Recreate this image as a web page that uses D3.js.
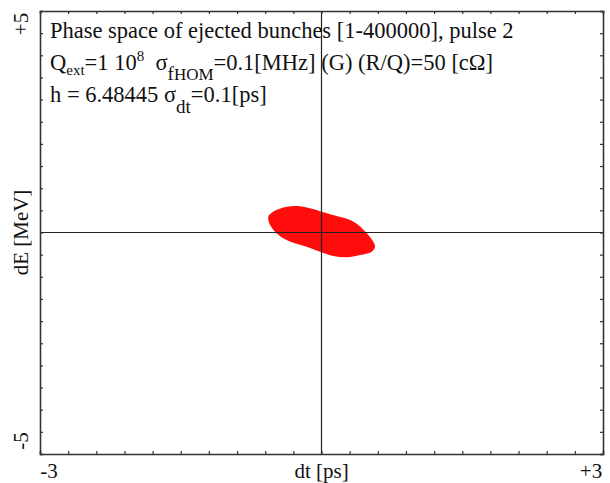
<!DOCTYPE html>
<html>
<head>
<meta charset="utf-8">
<script src="https://cdn.jsdelivr.net/npm/d3@7"></script>
<style>
  html, body { margin: 0; padding: 0; background: #fff; }
  svg text { font-family: "Liberation Serif", "DejaVu Serif", serif; fill: #111; }
</style>
</head>
<body>
<svg id="chart" width="610" height="483"></svg>
<script>
// Axis ranges and labels
const dtDomain = [-3, 3];        // ps
const dEDomain = [-5, 5];        // MeV
const xTickLabels = ["-3", "+3"];
const yTickLabels = ["-5", "+5"];
const xTitle = "dt [ps]";
const yTitle = "dE [MeV]";

// Outline of the ejected bunch distribution (dt [ps], dE [MeV])
const bunchDt = [-0.567, -0.531, -0.460, -0.371, -0.264, -0.123, 0.002, 0.162, 0.304, 0.392,
                 0.482, 0.552, 0.570, 0.535, 0.410, 0.269, 0.126, -0.016, -0.158, -0.301,
                 -0.407, -0.496, -0.556];
const bunchDE = [0.357, 0.447, 0.524, 0.582, 0.598, 0.546, 0.470, 0.372, 0.282, 0.169,
                 -0.018, -0.208, -0.321, -0.433, -0.508, -0.560, -0.530, -0.433, -0.321, -0.230,
                 -0.131, 0.018, 0.208];

const svg = d3.select("#chart");
const plotL = 40, plotR = 603, plotT = 11, plotB = 454;

const x = d3.scaleLinear().domain(dtDomain).range([plotL, plotR]);
const y = d3.scaleLinear().domain(dEDomain).range([plotB, plotT]);

const defs = svg.append("defs");
defs.append("filter").attr("id", "soft")
  .append("feGaussianBlur").attr("stdDeviation", 0.6);

// Bunch
const pts = bunchDt.map((d, i) => [x(d), y(bunchDE[i])]);
svg.append("path")
  .attr("d", d3.line().curve(d3.curveCatmullRomClosed.alpha(0.5))(pts))
  .attr("fill", "#ff0f0f")
  .attr("filter", "url(#soft)");

// Zero lines
svg.append("line").attr("x1", x(0)).attr("x2", x(0)).attr("y1", plotT).attr("y2", plotB)
  .attr("stroke", "#222").attr("stroke-width", 1.2);
svg.append("line").attr("x1", plotL).attr("x2", plotR).attr("y1", y(0)).attr("y2", y(0))
  .attr("stroke", "#222").attr("stroke-width", 1.2);

// Frame with inward minor ticks on all sides
const xTicks = d3.range(-3, 3.0001, 0.3);
const yTicks = d3.range(-5, 5.0001, 0.5);
const axB = d3.axisBottom(x).tickValues(xTicks).tickSize(-3).tickFormat("");
const axT = d3.axisTop(x).tickValues(xTicks).tickSize(-3).tickFormat("");
const axL = d3.axisLeft(y).tickValues(yTicks).tickSize(-3).tickFormat("");
const axR = d3.axisRight(y).tickValues(yTicks).tickSize(-3).tickFormat("");
[[axB, `translate(0,${plotB})`], [axT, `translate(0,${plotT})`],
 [axL, `translate(${plotL},0)`], [axR, `translate(${plotR},0)`]].forEach(([ax, tr]) => {
  const g = svg.append("g").attr("transform", tr).call(ax);
  g.select(".domain").attr("stroke", "#333").attr("stroke-width", 1.6);
  g.selectAll(".tick line").attr("stroke", "#333").attr("stroke-width", 1.2);
});

// Axis end labels
const fa = 21;
svg.append("text").attr("x", x(dtDomain[0]) + 9).attr("y", 478).attr("text-anchor", "middle")
  .attr("font-size", fa).text(xTickLabels[0]);
svg.append("text").attr("x", x(dtDomain[1]) - 12).attr("y", 478).attr("text-anchor", "middle")
  .attr("font-size", fa).text(xTickLabels[1]);
svg.append("text").attr("x", x(0)).attr("y", 478).attr("text-anchor", "middle")
  .attr("font-size", fa).text(xTitle);

function vtext(cx, cy, s) {
  svg.append("text").attr("transform", `translate(${cx},${cy}) rotate(-90)`)
    .attr("text-anchor", "middle").attr("font-size", fa).text(s);
}
vtext(28, y(dEDomain[0]) - 13, yTickLabels[0]);
vtext(28, y(dEDomain[1]) + 13, yTickLabels[1]);
vtext(28, y(0), yTitle);

// Annotation block
const fs = 22.5;
const tx = 50;
svg.append("text").attr("x", tx).attr("y", 38).attr("font-size", fs)
  .text("Phase space of ejected bunches [1-400000], pulse 2");

const l2 = svg.append("text").attr("x", tx).attr("y", 70).attr("font-size", fs);
l2.append("tspan").text("Q");
l2.append("tspan").attr("dy", 5).attr("font-size", 15).text("ext");
l2.append("tspan").attr("dy", -5).text("=1 10");
l2.append("tspan").attr("dy", -9).attr("font-size", 15).text("8");
l2.append("tspan").attr("dy", 9).text("\u00a0 σ");
l2.append("tspan").attr("dy", 10).attr("font-size", 19).text("f");
l2.append("tspan").attr("font-size", 17).text("HOM");
l2.append("tspan").attr("dy", -10).text("=0.1[MHz] (G) (R/Q)=50 [cΩ]");

const l3 = svg.append("text").attr("x", tx).attr("y", 102).attr("font-size", fs);
l3.append("tspan").text("h = 6.48445 σ");
l3.append("tspan").attr("dy", 11).attr("font-size", 19).text("dt");
l3.append("tspan").attr("dy", -11).text("=0.1[ps]");
</script>
</body>
</html>
